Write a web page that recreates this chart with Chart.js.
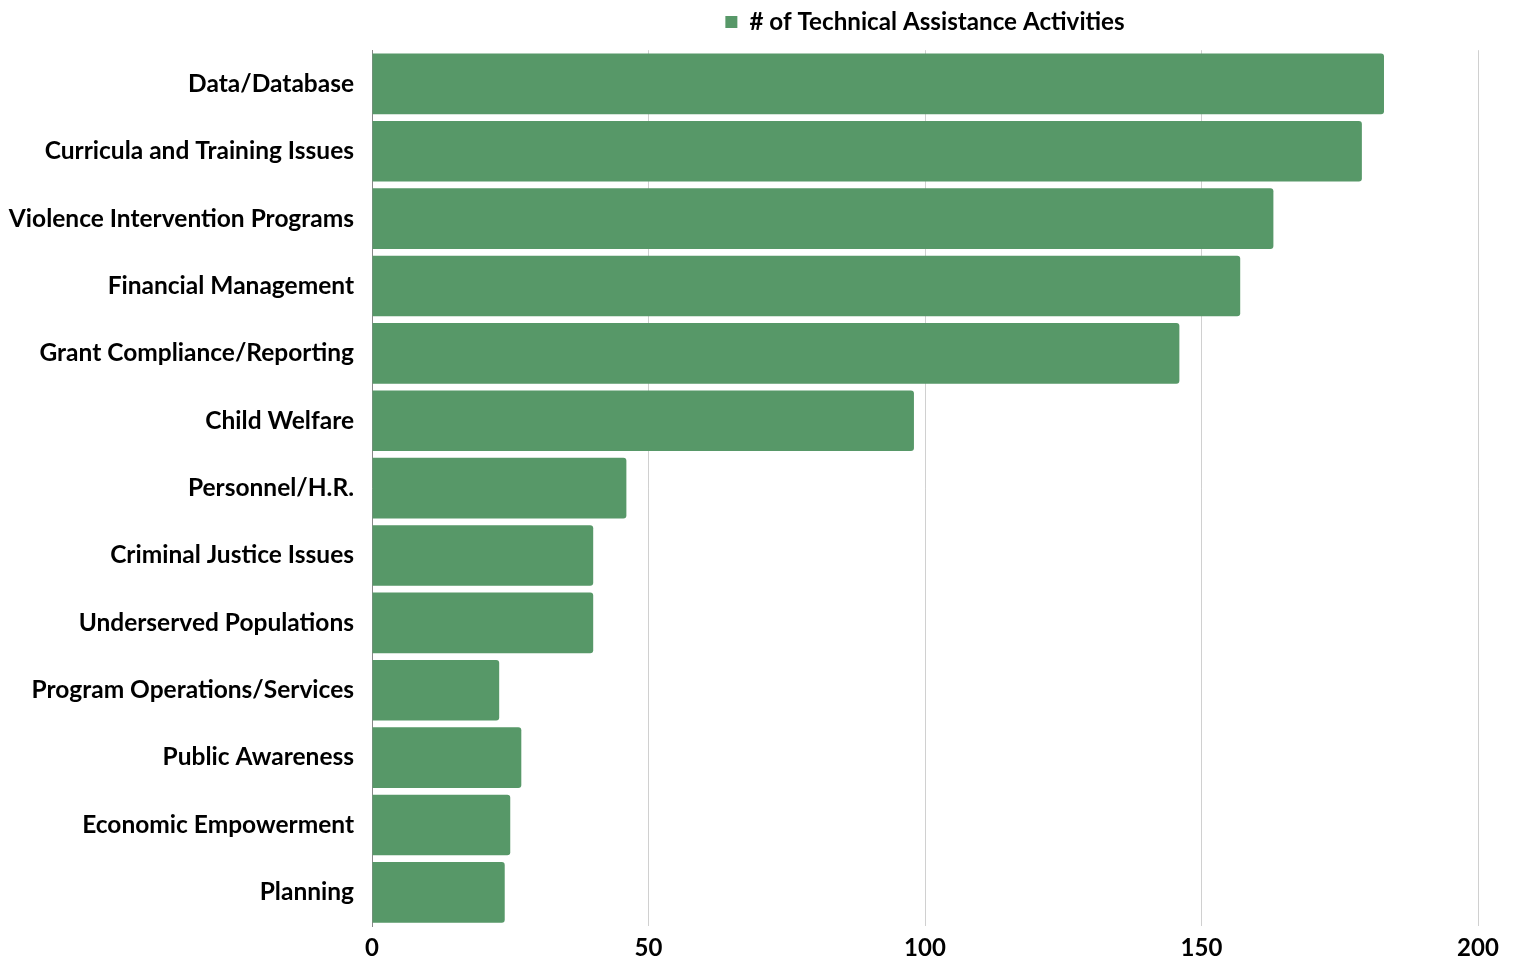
<!DOCTYPE html>
<html>
<head>
<meta charset="utf-8">
<script src="https://cdn.jsdelivr.net/npm/chart.js@4/dist/chart.umd.min.js"></script>
<style>
    html, body { margin: 0; padding: 0; background: #fff; }
    #wrap { width: 1515px; height: 964px; position: relative; }
</style>
</head>
<body>
<div id="wrap"><canvas id="taChart"></canvas></div>
<script>
// chart data
const categories = [
    "Data/Database",
    "Curricula and Training Issues",
    "Violence Intervention Programs",
    "Financial Management",
    "Grant Compliance/Reporting",
    "Child Welfare",
    "Personnel/H.R.",
    "Criminal Justice Issues",
    "Underserved Populations",
    "Program Operations/Services",
    "Public Awareness",
    "Economic Empowerment",
    "Planning"
];
const activityCounts = [183, 179, 163, 157, 146, 98, 46, 40, 40, 23, 27, 25, 24];
const seriesName = "# of Technical Assistance Activities";
const xTicks = [0, 50, 100, 150, 200];

const barColor = "#579868";
const labelFont = { family: "Lato", size: 24.5, weight: "bold" };
const legendFont = { family: "Lato", size: 24.2, weight: "bold" };

// extra space under the legend
const legendGap = {
    id: "legendGap",
    beforeInit(chart) {
        const origFit = chart.legend.fit;
        chart.legend.fit = function () {
            origFit.call(this);
            this.height += 6;
        };
    }
};

new Chart(document.getElementById("taChart").getContext("2d"), {
    type: "bar",
    data: {
        labels: categories,
        datasets: [{
            label: seriesName,
            data: activityCounts,
            backgroundColor: barColor,
            borderWidth: 0,
            borderRadius: { topRight: 3, bottomRight: 3 },
            borderSkipped: "start",
            categoryPercentage: 1,
            barPercentage: 0.9
        }]
    },
    options: {
        indexAxis: "y",
        responsive: true,
        maintainAspectRatio: false,
        animation: false,
        layout: { padding: { left: 0, right: 37, top: 0, bottom: 0 } },
        plugins: {
            legend: {
                fullSize: false,
                labels: {
                    font: legendFont,
                    color: "#000",
                    boxWidth: 12,
                    boxHeight: 12,
                    padding: 10
                }
            },
            tooltip: { enabled: false }
        },
        scales: {
            x: {
                min: 0,
                max: 200,
                afterBuildTicks: (scale) => {
                    scale.ticks = xTicks.map(v => ({ value: v }));
                },
                afterFit: (scale) => { scale.height = 38; },
                ticks: { font: { family: "Lato", size: 24, weight: "bold" }, color: "#000", padding: 8 },
                grid: { color: "#d0d0d0", drawTicks: false, lineWidth: 1 },
                border: { display: false }
            },
            y: {
                afterFit: (scale) => { scale.width = 372; },
                ticks: { font: labelFont, color: "#000", padding: 18 },
                grid: { display: false, drawTicks: false },
                border: { display: true, color: "#888", width: 1 }
            }
        }
    },
    plugins: [legendGap]
});
</script>
</body>
</html>
